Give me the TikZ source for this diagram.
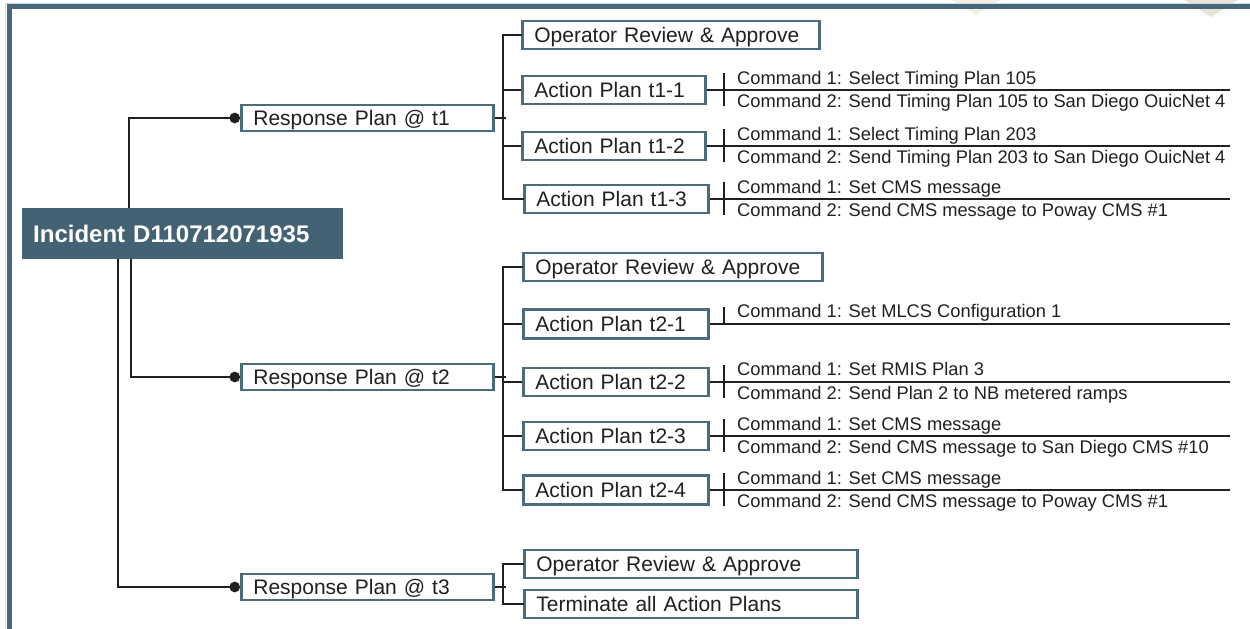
\documentclass[tikz,border=0pt]{standalone}
\usepackage{fontspec}
\setmainfont{Liberation Sans}
\usetikzlibrary{arrows.meta,calc}
\definecolor{boxc}{HTML}{4B6C7D}
\definecolor{incf}{HTML}{436273}
\definecolor{framec}{HTML}{46677A}
\definecolor{framelt}{HTML}{C9DCE6}
\definecolor{linec}{HTML}{231F20}
\definecolor{txtc}{HTML}{231F20}
\definecolor{wmark}{HTML}{E9E3D5}
\newcommand\fsz[1]{\fontsize{#1}{#1}\selectfont}
\begin{document}
\begin{tikzpicture}[x=1pt,y=-1pt,
  pbox/.style={draw=boxc, line width=2.7pt, fill=white, text=txtc, font=\fsz{21},
    inner xsep=12pt, inner ysep=0pt, text height=15pt, text depth=0pt,
    anchor=west, align=left},
  incbox/.style={fill=incf, text=white, font=\fsz{24}\bfseries,
    inner xsep=11pt, inner ysep=0pt, text height=17.2pt, text depth=0pt,
    anchor=north west, align=left},
  conn/.style={draw=linec, line width=2.8pt},
  dotend/.style={conn, -{Circle[length=10.5pt,width=10.5pt]}},
  cmd/.style={text=txtc, font=\fsz{18.3}, inner sep=0pt, anchor=base west}
]
\useasboundingbox (0,0) rectangle (1250,629);
% faint background marks
\fill[wmark] (1185,0) -- (1238,0) -- (1211,17) -- cycle;
\fill[wmark!60] (952,0) -- (1000,0) -- (976,15) -- cycle;
% frame
\draw[framelt, line width=1pt] (5.5,629) -- (5.5,3) -- (1250,3);
\draw[framec, line width=5pt] (9,629) -- (9,6.5) -- (1250,6.5);

% reference coordinates
\coordinate (rend) at (1230,0);
\coordinate (tk) at (724,0);
\coordinate (tx) at (737,0);

% incident
\node[incbox, minimum width=321pt, minimum height=51pt, text width=299pt] (inc) at (22,208) {Incident D110712071935};

% response plans
\node[pbox, minimum width=252pt, minimum height=26pt, text width=228pt] (rp1) at (240,118) {Response Plan @ t1};
\node[pbox, minimum width=252pt, minimum height=26pt, text width=228pt] (rp2) at (240,377) {Response Plan @ t2};
\node[pbox, minimum width=252pt, minimum height=26pt, text width=228pt] (rp3) at (240,587) {Response Plan @ t3};

% t1 children
\node[pbox, minimum width=297pt, minimum height=28pt, text width=273pt] (op1) at (521,35) {Operator Review \& Approve};
\node[pbox, minimum width=183pt, minimum height=28pt, text width=159pt] (ap11) at (521,90) {Action Plan t1-1};
\node[pbox, minimum width=183pt, minimum height=28pt, text width=159pt] (ap12) at (521,146) {Action Plan t1-2};
\node[pbox, minimum width=184pt, minimum height=28pt, text width=160pt] (ap13) at (523,199) {Action Plan t1-3};

% t2 children
\node[pbox, minimum width=299pt, minimum height=28pt, text width=275pt] (op2) at (522,267) {Operator Review \& Approve};
\node[pbox, minimum width=185pt, minimum height=29pt, text width=161pt] (ap21) at (522,324) {Action Plan t2-1};
\node[pbox, minimum width=185pt, minimum height=28pt, text width=161pt] (ap22) at (522,382) {Action Plan t2-2};
\node[pbox, minimum width=185pt, minimum height=28pt, text width=161pt] (ap23) at (522,436) {Action Plan t2-3};
\node[pbox, minimum width=185pt, minimum height=29pt, text width=161pt] (ap24) at (522,490) {Action Plan t2-4};

% t3 children
\node[pbox, minimum width=333pt, minimum height=28pt, text width=309pt] (op3) at (523,564) {Operator Review \& Approve};
\node[pbox, minimum width=333pt, minimum height=28pt, text width=309pt] (term) at (523,604) {Terminate all Action Plans};

% incident -> response plans
\draw[dotend] ($(inc.north west)+(107,0)$) |- (rp1.west);
\draw[dotend] ($(inc.south west)+(109,0)$) |- (rp2.west);
\draw[dotend] ($(inc.south west)+(96,0)$) |- (rp3.west);

% brackets t1
\draw[conn] (rp1.east) -- ++(11,0);
\draw[conn, line cap=rect] (op1.west) -- ++(-18,0) |- (ap13.west);
\draw[conn] (ap11.west) -- ++(-18,0);
\draw[conn] (ap12.west) -- ++(-18,0);

% brackets t2
\draw[conn] (rp2.east) -- ++(11,0);
\draw[conn, line cap=rect] (op2.west) -- ++(-19,0) |- (ap24.west);
\draw[conn] (ap21.west) -- ++(-19,0);
\draw[conn] (ap22.west) -- ++(-19,0);
\draw[conn] (ap23.west) -- ++(-19,0);

% brackets t3
\draw[conn] (rp3.east) -- ++(11,0);
\draw[conn, line cap=rect] (op3.west) -- ++(-20,0) |- (term.west);

% command lines t1
\draw[conn] (ap11.east) -- (ap11.east -| rend);
\draw[conn] (ap11.east -| tk) ++(0,-17) -- ++(0,33);
\node[cmd] (c11a) at ($(ap11.east -| tx)+(0,-5.5)$) {Command 1: Select Timing Plan 105};
\node[cmd] (c11b) at ($(ap11.east -| tx)+(0,17)$) {Command 2: Send Timing Plan 105 to San Diego OuicNet 4};

\draw[conn] (ap12.east) -- (ap12.east -| rend);
\draw[conn] (ap12.east -| tk) ++(0,-17) -- ++(0,33);
\node[cmd] (c12a) at ($(ap12.east -| tx)+(0,-5.5)$) {Command 1: Select Timing Plan 203};
\node[cmd] (c12b) at ($(ap12.east -| tx)+(0,17)$) {Command 2: Send Timing Plan 203 to San Diego OuicNet 4};

\draw[conn] (ap13.east) -- (ap13.east -| rend);
\draw[conn] (ap13.east -| tk) ++(0,-17) -- ++(0,33);
\node[cmd] (c13a) at ($(ap13.east -| tx)+(0,-5.5)$) {Command 1: Set CMS message};
\node[cmd] (c13b) at ($(ap13.east -| tx)+(0,17)$) {Command 2: Send CMS message to Poway CMS \#1};

% command lines t2
\draw[conn] (ap21.east) -- (ap21.east -| rend);
\draw[conn] (ap21.east -| tk) ++(0,-17) -- ++(0,17);
\node[cmd] (c21a) at ($(ap21.east -| tx)+(0,-6.5)$) {Command 1: Set MLCS Configuration 1};

\draw[conn] (ap22.east) -- (ap22.east -| rend);
\draw[conn] (ap22.east -| tk) ++(0,-17) -- ++(0,33);
\node[cmd] (c22a) at ($(ap22.east -| tx)+(0,-6.5)$) {Command 1: Set RMIS Plan 3};
\node[cmd] (c22b) at ($(ap22.east -| tx)+(0,17)$) {Command 2: Send Plan 2 to NB metered ramps};

\draw[conn] (ap23.east) -- (ap23.east -| rend);
\draw[conn] (ap23.east -| tk) ++(0,-17) -- ++(0,33);
\node[cmd] (c23a) at ($(ap23.east -| tx)+(0,-6)$) {Command 1: Set CMS message};
\node[cmd] (c23b) at ($(ap23.east -| tx)+(0,17)$) {Command 2: Send CMS message to San Diego CMS \#10};

\draw[conn] (ap24.east) -- (ap24.east -| rend);
\draw[conn] (ap24.east -| tk) ++(0,-17) -- ++(0,33);
\node[cmd] (c24a) at ($(ap24.east -| tx)+(0,-6)$) {Command 1: Set CMS message};
\node[cmd] (c24b) at ($(ap24.east -| tx)+(0,17)$) {Command 2: Send CMS message to Poway CMS \#1};
\end{tikzpicture}
\end{document}
